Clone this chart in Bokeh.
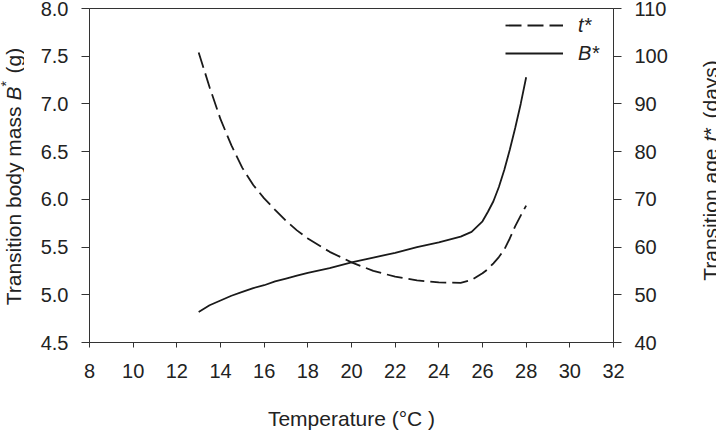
import math

from bokeh.embed import file_html
from bokeh.layouts import row
from bokeh.models import (FixedTicker, Label, Legend, LegendItem, LinearAxis,
                          PrintfTickFormatter, Range1d)
from bokeh.plotting import figure
from bokeh.resources import INLINE

# Temperature (°C) at which the optimal transition was computed
temperature = [13, 13.5, 14, 14.5, 15, 15.5, 16, 16.5, 17, 17.5, 18, 19, 20,
               21, 22, 23, 24, 25, 25.5, 26, 26.25, 26.5, 26.75, 27, 27.25,
               27.5, 27.75, 28]
# Transition body mass B* (g)
body_mass = [4.82, 4.89, 4.94, 4.99, 5.03, 5.07, 5.10, 5.14, 5.17, 5.20, 5.23,
             5.28, 5.34, 5.39, 5.44, 5.50, 5.55, 5.61, 5.66, 5.77, 5.87, 5.98,
             6.13, 6.31, 6.52, 6.75, 7.00, 7.28]
# Transition age t* (days)
transition_age = [100.8, 93.5, 86.8, 81.3, 76.6, 73.0, 70.2, 67.8, 65.5, 63.5,
                  61.8, 59.0, 56.8, 55.0, 53.8, 53.0, 52.6, 52.5, 53.1, 54.5,
                  55.4, 56.6, 57.9, 59.5, 61.8, 64.4, 66.6, 68.7]

x_ticks = list(range(8, 33, 2))
mass_ticks = [4.5, 5.0, 5.5, 6.0, 6.5, 7.0, 7.5, 8.0]
age_ticks = list(range(40, 111, 10))

W, H = 716, 436
SIDE_L, SIDE_R = 24, 24          # strips that hold the vertical titles
BORDER_L, BORDER_R, BORDER_T, BORDER_B = 65, 79, 8, 94
FONT = "Liberation Sans"
INK = "#222222"
AXIS = "#333333"

p = figure(width=W - SIDE_L - SIDE_R, height=H, output_backend="svg",
           toolbar_location=None,
           x_range=Range1d(8, 32), y_range=Range1d(4.5, 8.0),
           min_border_left=BORDER_L, min_border_right=BORDER_R,
           min_border_top=BORDER_T, min_border_bottom=BORDER_B)
p.extra_y_ranges = {"age": Range1d(40, 110)}
p.add_layout(LinearAxis(y_range_name="age"), "right")

p.xgrid.visible = False
p.ygrid.visible = False
p.outline_line_color = AXIS
p.outline_line_width = 1
p.border_fill_color = "white"

for ax in p.axis:
    ax.axis_line_color = AXIS
    ax.major_tick_line_color = AXIS
    ax.major_tick_in = 0
    ax.major_tick_out = 8
    ax.minor_tick_in = 0
    ax.minor_tick_out = 0
    ax.major_label_text_font = FONT
    ax.major_label_text_font_size = "20px"
    ax.major_label_text_color = INK

p.xaxis.ticker = FixedTicker(ticks=x_ticks)
p.xaxis.major_tick_out = 5
p.xaxis.major_label_standoff = 16
p.xaxis.axis_label = "Temperature (°C )"
p.xaxis.axis_label_text_font = FONT
p.xaxis.axis_label_text_font_size = "21px"
p.xaxis.axis_label_text_font_style = "normal"
p.xaxis.axis_label_text_color = INK
p.xaxis.axis_label_standoff = 26

left_axis = p.yaxis[0]
left_axis.ticker = FixedTicker(ticks=mass_ticks)
left_axis.formatter = PrintfTickFormatter(format="%.1f")
left_axis.major_label_standoff = 13

right_axis = p.yaxis[1]
right_axis.ticker = FixedTicker(ticks=age_ticks)
right_axis.major_label_standoff = 13

# curves
r_age = p.line(temperature, transition_age, y_range_name="age",
               line_color="#1a1a1a", line_width=1.8, line_dash="16 6")
r_mass = p.line(temperature, body_mass, line_color="#1a1a1a", line_width=1.8)

legend = Legend(items=[LegendItem(label="t*", renderers=[r_age]),
                       LegendItem(label="B*", renderers=[r_mass])],
                location=(416, 277), padding=0, spacing=4,
                glyph_width=58, glyph_height=24, label_height=24,
                label_standoff=15, border_line_color=None,
                background_fill_alpha=0,
                label_text_font=FONT, label_text_font_size="20px",
                label_text_font_style="italic", label_text_color=INK)
p.add_layout(legend)


def title_strip(width, pieces, baseline_x):
    """A narrow panel holding one vertical title, read from bottom to top.

    Its frame shares the main plot's top and bottom borders, and its y range
    is set so that y = H - (pixels from the top of the page).

    pieces: (text, anchor_px_from_top, align, font_style, font_size, lift_px)
    A right-aligned piece ends at its anchor; a left-aligned one starts there.
    """
    s = figure(width=width, height=H, output_backend="svg",
               toolbar_location=None, x_range=Range1d(0, width),
               y_range=Range1d(BORDER_B, H - BORDER_T),
               x_axis_location=None, y_axis_location=None,
               min_border_left=0, min_border_right=0,
               min_border_top=BORDER_T, min_border_bottom=BORDER_B)
    s.xgrid.visible = False
    s.ygrid.visible = False
    s.outline_line_color = None
    s.border_fill_color = "white"
    for text, anchor, align, style, size, lift in pieces:
        s.add_layout(Label(x=baseline_x - lift, y=H - anchor, text=text,
                           angle=math.pi / 2, text_font=FONT,
                           text_font_size=size, text_font_style=style,
                           text_color=INK, text_baseline="alphabetic",
                           text_align=align))
    return s


left_title = title_strip(
    SIDE_L,
    [("Transition body mass", 106, "right", "normal", "21px", 0),
     ("B", 100, "left", "italic", "21px", 0),
     ("*", 86, "left", "normal", "14px", 8),
     ("(g)", 73, "left", "normal", "21px", 0)],
    baseline_x=13)
right_title = title_strip(
    SIDE_R,
    [("Transition age", 148, "right", "normal", "21px", 0),
     ("t", 141, "left", "italic", "21px", 0),
     ("*", 135, "left", "normal", "21px", 0),
     ("(days)", 118, "left", "normal", "21px", 0)],
    baseline_x=18)

page = row(left_title, p, right_title, spacing=0)
open("out.html", "w").write(file_html(page, INLINE))
